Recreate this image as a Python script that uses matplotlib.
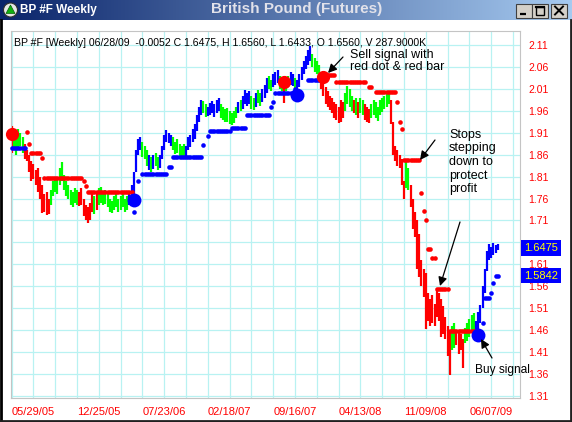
import numpy as np
import pandas as pd
import matplotlib
matplotlib.use("Agg")
import matplotlib.pyplot as plt
from matplotlib.colors import LinearSegmentedColormap
from matplotlib.patches import Rectangle, Circle, Polygon
from matplotlib.transforms import blended_transform_factory

plt.rcParams["font.family"] = ["Liberation Sans", "DejaVu Sans"]

W, H = 572, 422

# weekly British Pound futures, one bar per week starting 03/20/05
first_week = "2005-03-20"

highs = [
    1.925, 1.915, 1.905, 1.920, 1.910, 1.900, 1.885, 1.870, 1.860, 1.845,
    1.840, 1.825, 1.830, 1.810, 1.790, 1.770, 1.775, 1.760, 1.780, 1.800,
    1.810, 1.805, 1.830, 1.843, 1.815, 1.800, 1.790, 1.780, 1.775, 1.785,
    1.780, 1.775, 1.785, 1.760, 1.745, 1.740, 1.750, 1.770, 1.765, 1.775,
    1.785, 1.787, 1.775, 1.780, 1.770, 1.760, 1.755, 1.765, 1.770, 1.760,
    1.765, 1.772, 1.760, 1.765, 1.775, 1.790, 1.820, 1.870, 1.895, 1.900,
    1.890, 1.880, 1.870, 1.860, 1.855, 1.860, 1.865, 1.855, 1.860, 1.880,
    1.905, 1.917, 1.910, 1.905, 1.900, 1.890, 1.895, 1.885, 1.880, 1.885,
    1.880, 1.900, 1.905, 1.920, 1.930, 1.950, 1.970, 1.985, 1.982, 1.975,
    1.970, 1.978, 1.982, 1.975, 1.985, 1.990, 1.975, 1.970, 1.965, 1.967,
    1.960, 1.955, 1.960, 1.970, 1.980, 1.985, 1.995, 2.008, 2.000, 2.005,
    1.995, 1.990, 2.000, 2.008, 2.002, 2.010, 2.020, 2.035, 2.040, 2.030,
    2.045, 2.050, 2.053, 2.040, 2.035, 2.030, 2.035, 2.040, 2.049, 2.045,
    2.035, 2.030, 2.045, 2.060, 2.075, 2.085, 2.100, 2.108, 2.090, 2.080,
    2.075, 2.065, 2.040, 2.030, 2.015, 2.005, 1.995, 1.990, 1.980, 1.975,
    1.970, 1.985, 1.980, 2.000, 2.017, 2.010, 1.995, 1.985, 1.990, 1.980,
    1.990, 1.985, 1.975, 1.970, 1.965, 1.975, 1.985, 1.980, 1.970, 1.985,
    1.990, 1.995, 2.000, 2.005, 1.985, 1.935, 1.880, 1.870, 1.860, 1.850,
    1.800, 1.845, 1.830, 1.790, 1.760, 1.730, 1.710, 1.680, 1.620, 1.600,
    1.590, 1.545, 1.530, 1.540, 1.520, 1.555, 1.545, 1.530, 1.515, 1.490,
    1.470, 1.455, 1.470, 1.476, 1.460, 1.455, 1.450, 1.440, 1.465, 1.475,
    1.485, 1.495, 1.499, 1.480, 1.500, 1.518, 1.560, 1.600, 1.640, 1.656,
    1.650, 1.658, 1.655, 1.656,
]

lows = [
    1.865, 1.870, 1.860, 1.875, 1.880, 1.865, 1.850, 1.845, 1.820, 1.800,
    1.805, 1.790, 1.775, 1.760, 1.727, 1.730, 1.722, 1.725, 1.745, 1.765,
    1.775, 1.770, 1.790, 1.800, 1.780, 1.765, 1.760, 1.745, 1.741, 1.750,
    1.745, 1.742, 1.745, 1.720, 1.710, 1.705, 1.710, 1.730, 1.725, 1.735,
    1.745, 1.750, 1.745, 1.748, 1.741, 1.730, 1.727, 1.735, 1.740, 1.730,
    1.735, 1.740, 1.730, 1.735, 1.745, 1.755, 1.765, 1.820, 1.860, 1.870,
    1.855, 1.850, 1.835, 1.825, 1.820, 1.828, 1.835, 1.825, 1.830, 1.850,
    1.870, 1.890, 1.887, 1.880, 1.870, 1.862, 1.865, 1.858, 1.855, 1.858,
    1.850, 1.870, 1.878, 1.890, 1.895, 1.915, 1.935, 1.950, 1.955, 1.946,
    1.948, 1.950, 1.955, 1.946, 1.955, 1.960, 1.945, 1.940, 1.935, 1.935,
    1.930, 1.928, 1.932, 1.945, 1.955, 1.960, 1.965, 1.975, 1.972, 1.975,
    1.965, 1.962, 1.970, 1.978, 1.972, 1.980, 1.990, 2.000, 2.010, 2.005,
    2.015, 2.020, 2.025, 2.010, 2.005, 1.978, 2.005, 2.015, 2.020, 2.018,
    2.010, 2.000, 2.015, 2.030, 2.045, 2.055, 2.065, 2.075, 2.060, 2.050,
    2.045, 2.040, 2.010, 1.995, 1.975, 1.970, 1.962, 1.955, 1.945, 1.940,
    1.932, 1.935, 1.945, 1.960, 1.975, 1.970, 1.960, 1.955, 1.950, 1.945,
    1.955, 1.950, 1.940, 1.935, 1.932, 1.945, 1.950, 1.945, 1.938, 1.950,
    1.958, 1.965, 1.970, 1.975, 1.930, 1.860, 1.845, 1.835, 1.830, 1.790,
    1.760, 1.785, 1.780, 1.740, 1.690, 1.673, 1.600, 1.581, 1.560, 1.535,
    1.462, 1.480, 1.470, 1.475, 1.468, 1.490, 1.480, 1.443, 1.450, 1.440,
    1.400, 1.357, 1.415, 1.420, 1.425, 1.405, 1.415, 1.374, 1.430, 1.435,
    1.445, 1.455, 1.460, 1.450, 1.460, 1.475, 1.510, 1.545, 1.595, 1.620,
    1.625, 1.632, 1.635, 1.6433,
]

# r = short side, b = long side, g = counter-trend bar
bar_colors = (
    "r" "ggggg" "rrrrrrrrrrrr" "ggggggggggggg" "rrrrrr" "rgr"
    "gggggggggggggg" "bbbbbb" "ggg" "bgbgg" "bbbbbb" "gggggg" "bbbbbbbb"
    "gg" "bbbbbb" "gggggggg" "bgbbbb" "ggbggbbbggbbbgg" "rggbbgbbbbbbbgggg"
    "rrrrrrrrrrr" "ggggrgrggrrr" "ggggggggg" "rrrrrrr" "gg"
    "rrrrrrrrrrrrrrrrrrr" "gg" "rrrr" "ggggg" "bbbbbbbbbbb"
)

# trailing stops: (first bar, last bar, stop level)
long_stops = [
    (0, 6, 1.876), (56, 56, 1.729), (58, 58, 1.800), (60, 71, 1.816),
    (72, 73, 1.832), (74, 87, 1.855), (88, 88, 1.883), (90, 90, 1.903),
    (91, 100, 1.914), (101, 107, 1.921), (108, 118, 1.950), (119, 119, 1.969),
    (120, 120, 1.980), (121, 129, 2.000), (130, 130, 2.010), (136, 143, 2.030),
    (216, 216, 1.476), (217, 219, 1.532), (220, 220, 1.545), (221, 221, 1.568),
    (222, 223, 1.5842),
]
short_stops = [
    (7, 7, 1.912), (8, 8, 1.885), (9, 13, 1.865), (14, 14, 1.853),
    (15, 32, 1.808), (33, 33, 1.800), (34, 34, 1.789), (35, 55, 1.774),
    (145, 148, 2.043), (149, 162, 2.026), (164, 165, 2.015), (167, 176, 2.003),
    (177, 177, 1.980), (178, 178, 1.935), (179, 179, 1.918), (180, 187, 1.848),
    (188, 188, 1.773), (189, 189, 1.732), (190, 190, 1.711), (191, 192, 1.645),
    (193, 194, 1.625), (195, 200, 1.554), (201, 213, 1.457),
]

sell_signals = [(0, 1.907), (125, 2.026), (143, 2.037)]
buy_signals = [(56, 1.757), (131, 1.996), (214, 1.449)]

last_close = 1.6475
last_stop = 1.5842
info = ("BP #F [Weekly] 06/28/09  -0.0052 C 1.6475, H 1.6560, L 1.6433, "
        "O 1.6560, V 287.9000K")

y_ticks = [1.31, 1.36, 1.41, 1.46, 1.51, 1.56, 1.61, 1.66, 1.71, 1.76,
           1.81, 1.86, 1.91, 1.96, 2.01, 2.06, 2.11]

RED, GREEN, BLUE = "#ff0000", "#00ff00", "#0000ff"
GRID = "#b8f2f2"
palette = {"r": RED, "g": GREEN, "b": BLUE}

n = len(highs)
idx = np.arange(n)
dates = pd.date_range(first_week, periods=n, freq="W-SUN")

fig = plt.figure(figsize=(W / 100, H / 100), dpi=100, facecolor="white")

# window chrome, drawn in pixel coordinates
chrome = fig.add_axes([0, 0, 1, 1], zorder=0)
chrome.set_xlim(0, W)
chrome.set_ylim(H, 0)
chrome.axis("off")
title_cmap = LinearSegmentedColormap.from_list("titlebar", ["#0a246a", "#a6caf0"])
chrome.imshow(np.linspace(0, 1, 256)[None, :], cmap=title_cmap, aspect="auto",
              extent=[0, W, 20, 0])
chrome.add_patch(Circle((10.5, 10), 7, fc="#e6e6e6", ec="#303030", lw=0.8))
chrome.add_patch(Polygon([[10.5, 5], [6, 13.5], [15, 13.5]], closed=True,
                         fc="#10b010", ec="#0a600a", lw=0.5))
chrome.text(20, 10.5, "BP #F Weekly", color="white", fontsize=8.5,
            fontweight="bold", va="center", ha="left")
chrome.text(297, 9.5, "British Pound (Futures)", color="#e2e2ea", fontsize=11,
            fontweight="bold", va="center", ha="center")
for bx in (516, 532, 551):
    chrome.add_patch(Rectangle((bx, 3.5), 15.5, 14, fc="#d4d0c8", ec="#404040", lw=0.8))
chrome.plot([520, 526], [14, 14], color="black", lw=1.6, solid_capstyle="butt")
chrome.add_patch(Rectangle((535.5, 6.5), 8.5, 8, fc="none", ec="black", lw=1.0))
chrome.plot([535.5, 544], [7.3, 7.3], color="black", lw=1.6)
chrome.plot([555, 563], [6.5, 14.5], color="black", lw=1.4)
chrome.plot([555, 563], [14.5, 6.5], color="black", lw=1.4)
chrome.plot([1, 1], [20, H], color="black", lw=2)
chrome.plot([W - 1.5, W - 1.5], [20, H], color="#202020", lw=2)
chrome.plot([0, W], [H - 1.5, H - 1.5], color="#202020", lw=2)

# price pane
left, right, top, bottom = 11, 520, 31, 398
ax = fig.add_axes([left / W, 1 - bottom / H, (right - left) / W, (bottom - top) / H],
                  zorder=1)
ax.set_facecolor("white")
ax.set_xlim(-0.3, 233.2)
ax.set_ylim(1.3047, 2.1427)

for gx in range(0, 234, 10):
    ax.axvline(gx, color=GRID, lw=0.9, zorder=0)
for gy in y_ticks:
    ax.axhline(gy, color=GRID, lw=0.9, zorder=0)

ax.vlines(idx, lows, highs, colors=[palette[c] for c in bar_colors],
          linewidth=1.6, zorder=2)

for runs, col in ((long_stops, BLUE), (short_stops, RED)):
    for a, b, level in runs:
        xs = np.arange(a, b + 1)
        ax.plot(xs, [level] * len(xs), "o", color=col, markersize=3.3,
                markeredgewidth=0, zorder=3, clip_on=False)

for i, v in sell_signals:
    ax.plot(i, v, "o", color=RED, markersize=9.5, markeredgewidth=0,
            zorder=4, clip_on=False)
for i, v in buy_signals:
    ax.plot(i, v, "o", color=BLUE, markersize=10, markeredgewidth=0,
            zorder=4, clip_on=False)

for s in ax.spines.values():
    s.set_color("#c4c4c4")
    s.set_linewidth(0.8)

# the scale label under the last-close box stays hidden by the box
ax.yaxis.tick_right()
ax.set_yticks(y_ticks)
ax.set_yticklabels(["" if abs(t - last_close) < 0.025 else f"{t:.2f}"
                    for t in y_ticks])
ax.tick_params(axis="y", length=0, pad=5.8, labelsize=7.5, labelcolor=RED)

label_idx = list(range(10, n, 30))
ax.set_xticks(label_idx)
ax.set_xticklabels([dates[i].strftime("%m/%d/%y") for i in label_idx])
ax.tick_params(axis="x", length=0, pad=6.5, labelsize=8, labelcolor=RED)

# current close and stop shown on the price scale
tr = blended_transform_factory(ax.transAxes, ax.transData)
for val in (last_close, last_stop):
    ax.text(1.0415, val, f"{val:.4f}", transform=tr, ha="center", va="center",
            color="#ffff00", fontsize=8, zorder=5,
            bbox=dict(boxstyle="square,pad=0.25", fc=BLUE, ec="none"))

# notes and arrows on top of everything
over = fig.add_axes([0, 0, 1, 1], zorder=2)
over.set_xlim(0, W)
over.set_ylim(H, 0)
over.axis("off")
over.patch.set_alpha(0)

over.text(14.5, 42.5, info, fontsize=7.6, va="center", ha="left", color="black")

arrow = dict(arrowstyle="-|>", color="black", lw=0.9, mutation_scale=13,
             shrinkA=0, shrinkB=0)
over.text(350, 61, "Sell signal with\nred dot & red bar", fontsize=9,
          va="center", ha="left", linespacing=1.1)
over.annotate("", xy=(328, 73), xytext=(343, 57), arrowprops=arrow)

over.text(449, 162, "Stops\nstepping\ndown to\nprotect\nprofit", fontsize=9,
          va="center", ha="left", linespacing=1.17)
over.annotate("", xy=(420, 160), xytext=(435, 140), arrowprops=arrow)
over.annotate("", xy=(440, 286), xytext=(460, 222), arrowprops=arrow)

over.text(475, 370, "Buy signal", fontsize=8.6, va="center", ha="left")
over.annotate("", xy=(481, 339), xytext=(492, 358), arrowprops=arrow)

fig.savefig("out.png", dpi=100, facecolor="white")
